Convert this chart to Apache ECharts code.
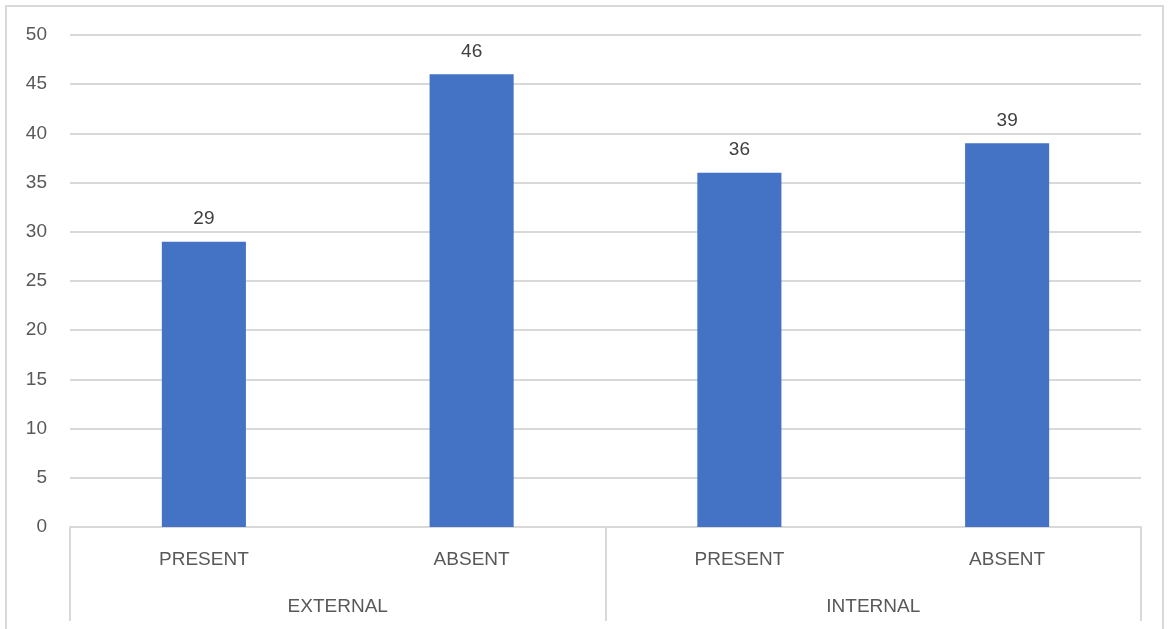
<!DOCTYPE html>
<html>
<head>
<meta charset="utf-8">
<script src="https://cdn.jsdelivr.net/npm/echarts@6/dist/echarts.min.js"></script>
<style>
  html, body { margin: 0; padding: 0; background: #ffffff; }
  #chart { width: 1171px; height: 629px; }
  #frame {
    position: absolute; left: 5px; top: 5px; width: 1159px; height: 640px;
    border: 2px solid #d9d9d9; box-sizing: border-box; pointer-events: none;
  }
</style>
</head>
<body>
<div id="chart"></div>
<div id="frame"></div>
<script>
// Inner categories (bottom row 1) and their outer groups (bottom row 2)
const categories = ['PRESENT', 'ABSENT', 'PRESENT', 'ABSENT'];
const groups = ['EXTERNAL', 'INTERNAL'];
const values = [29, 46, 36, 39];
const yTicks = { min: 0, max: 50, interval: 5 };

const textColor = '#595959';
const gridColor = '#d9d9d9';
const font = 'Liberation Sans';

const chart = echarts.init(document.getElementById('chart'));
chart.setOption({
  animation: false,
  grid: { left: 70, right: 30, top: 35, bottom: 102, containLabel: false },
  xAxis: [
    {
      type: 'category',
      data: categories,
      position: 'bottom',
      axisLine: { show: true, lineStyle: { color: gridColor, width: 2 } },
      axisTick: { show: false },
      axisLabel: { color: textColor, fontFamily: font, fontSize: 19, margin: 23, interval: 0 }
    },
    {
      type: 'category',
      data: groups,
      position: 'bottom',
      axisLine: { show: false },
      axisTick: { show: true, length: 94, lineStyle: { color: gridColor, width: 2 } },
      axisLabel: { color: textColor, fontFamily: font, fontSize: 19, margin: 70, interval: 0 },
      splitLine: { show: false }
    }
  ],
  yAxis: {
    type: 'value',
    min: yTicks.min,
    max: yTicks.max,
    interval: yTicks.interval,
    axisLine: { show: false },
    axisTick: { show: false },
    axisLabel: { color: textColor, fontFamily: font, fontSize: 19, margin: 23, padding: [4, 0, 0, 0] },
    splitLine: { lineStyle: { color: gridColor, width: 2 } }
  },
  series: [{
    type: 'bar',
    xAxisIndex: 0,
    data: values,
    barWidth: '31.4%',
    itemStyle: { color: '#4472c4' },
    label: {
      show: true,
      position: 'top',
      distance: 13,
      color: '#404040',
      fontFamily: font,
      fontSize: 19
    }
  }]
});
</script>
</body>
</html>
